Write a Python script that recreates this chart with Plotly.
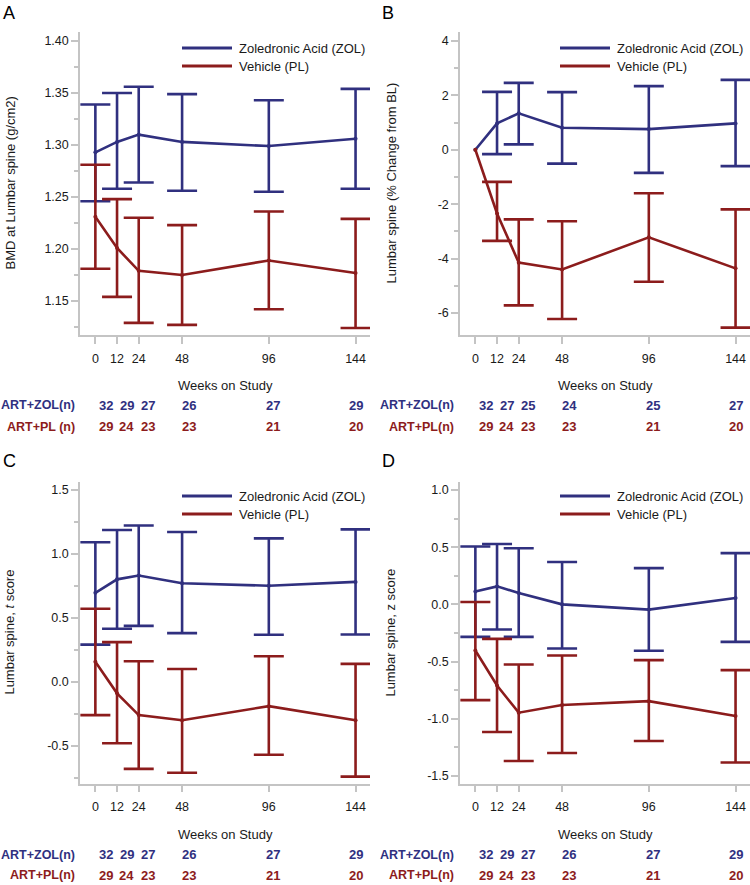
import plotly.graph_objects as go

W, H = 750, 885

weeks = [0, 12, 24, 48, 96, 144]
week_labels = ["0", "12", "24", "48", "96", "144"]

# Panel A: BMD at lumbar spine (g/cm2)
a_zol_mean = [1.293, 1.303, 1.310, 1.303, 1.299, 1.306]
a_zol_upper = [1.339, 1.350, 1.356, 1.349, 1.343, 1.354]
a_zol_lower = [1.246, 1.258, 1.264, 1.256, 1.255, 1.258]
a_pl_mean = [1.231, 1.201, 1.179, 1.175, 1.189, 1.177]
a_pl_upper = [1.281, 1.248, 1.230, 1.223, 1.236, 1.229]
a_pl_lower = [1.181, 1.154, 1.129, 1.127, 1.142, 1.124]

# Panel B: % change from baseline
b_zol_mean = [0.0, 0.97, 1.34, 0.81, 0.76, 0.97]
b_zol_upper = [None, 2.13, 2.46, 2.12, 2.34, 2.57]
b_zol_lower = [None, -0.16, 0.20, -0.51, -0.85, -0.60]
b_pl_mean = [0.0, -2.34, -4.15, -4.40, -3.22, -4.36]
b_pl_upper = [None, -1.18, -2.56, -2.63, -1.60, -2.19]
b_pl_lower = [None, -3.35, -5.72, -6.22, -4.85, -6.54]

# Panel C: t score
c_zol_mean = [0.695, 0.80, 0.83, 0.77, 0.75, 0.78]
c_zol_upper = [1.09, 1.185, 1.22, 1.17, 1.12, 1.19]
c_zol_lower = [0.29, 0.414, 0.437, 0.38, 0.367, 0.37]
c_pl_mean = [0.156, -0.09, -0.26, -0.30, -0.19, -0.30]
c_pl_upper = [0.57, 0.31, 0.16, 0.10, 0.20, 0.14]
c_pl_lower = [-0.26, -0.48, -0.68, -0.71, -0.57, -0.74]

# Panel D: z score
d_zol_mean = [0.113, 0.157, 0.10, 0.0, -0.046, 0.056]
d_zol_upper = [0.506, 0.527, 0.49, 0.37, 0.317, 0.448]
d_zol_lower = [-0.284, -0.22, -0.284, -0.386, -0.406, -0.328]
d_pl_mean = [-0.404, -0.709, -0.947, -0.88, -0.846, -0.976]
d_pl_upper = [0.02, -0.302, -0.526, -0.447, -0.488, -0.575]
d_pl_lower = [-0.837, -1.116, -1.369, -1.30, -1.194, -1.383]

# Numbers at risk
a_n_zol = [32, 29, 27, 26, 27, 29]
a_n_pl = [29, 24, 23, 23, 21, 20]
b_n_zol = [32, 27, 25, 24, 25, 27]
b_n_pl = [29, 24, 23, 23, 21, 20]
c_n_zol = [32, 29, 27, 26, 27, 29]
c_n_pl = [29, 24, 23, 23, 21, 20]
d_n_zol = [32, 29, 27, 26, 27, 29]
d_n_pl = [29, 24, 23, 23, 21, 20]

BLUE = "#30307f"
RED = "#8c1c1c"
AXC = "#c4c4c4"
TXT = "#1a1a1a"
FONT = "Liberation Sans, Arial, sans-serif"


def px_x(p):
    return p / W


def px_y(p):
    return 1 - p / H


panels = [
    dict(letter="A", xa="x", ya="y", xdom=(80, 370), ydom=(32, 335),
         yrange=(1.1173, 1.4087), ytv=[1.15, 1.20, 1.25, 1.30, 1.35, 1.40], yfmt="{:.2f}",
         ymdt=0.025, ytitle="BMD at Lumbar spine (g/cm2)",
         zol=(a_zol_mean, a_zol_upper, a_zol_lower), pl=(a_pl_mean, a_pl_upper, a_pl_lower),
         nz=a_n_zol, npl=a_n_pl, plname="ART+PL (n)", letter_xy=(1, 13.5), ytitle_x=10,
         wk_y=385, zrow=405, prow=426.7, lab_x=77, leg=(182, 232, 237, 48, 66)),
    dict(letter="B", xa="x2", ya="y2", xdom=(460, 750), ydom=(32, 335),
         yrange=(-6.81, 4.33), ytv=[-6, -4, -2, 0, 2, 4], yfmt="{:.0f}",
         ymdt=1, ytitle="Lumbar spine (% Change from BL)",
         zol=(b_zol_mean, b_zol_upper, b_zol_lower), pl=(b_pl_mean, b_pl_upper, b_pl_lower),
         nz=b_n_zol, npl=b_n_pl, plname="ART+PL(n)", letter_xy=(380, 13.5), ytitle_x=391,
         wk_y=385, zrow=405, prow=426.7, lab_x=456, leg=(560, 610, 615, 48, 66)),
    dict(letter="C", xa="x3", ya="y3", xdom=(80, 370), ydom=(481.7, 783.5),
         yrange=(-0.794, 1.5625), ytv=[-0.5, 0.0, 0.5, 1.0, 1.5], yfmt="{:.1f}",
         ymdt=0.25, ytitle="Lumbar spine, <i>t</i> score",
         zol=(c_zol_mean, c_zol_upper, c_zol_lower), pl=(c_pl_mean, c_pl_upper, c_pl_lower),
         nz=c_n_zol, npl=c_n_pl, plname="ART+PL(n)", letter_xy=(1, 461.5), ytitle_x=10,
         wk_y=834.3, zrow=854.7, prow=875.3, lab_x=77, leg=(182, 232, 237, 496, 514)),
    dict(letter="D", xa="x4", ya="y4", xdom=(460, 750), ydom=(481.7, 783.5),
         yrange=(-1.566, 1.072), ytv=[-1.5, -1.0, -0.5, 0.0, 0.5, 1.0], yfmt="{:.1f}",
         ymdt=0.25, ytitle="Lumbar spine, z score",
         zol=(d_zol_mean, d_zol_upper, d_zol_lower), pl=(d_pl_mean, d_pl_upper, d_pl_lower),
         nz=d_n_zol, npl=d_n_pl, plname="ART+PL(n)", letter_xy=(380, 461.5), ytitle_x=391,
         wk_y=834.3, zrow=854.7, prow=875.3, lab_x=456, leg=(560, 610, 615, 496, 514)),
]

fig = go.Figure()
annotations = []
shapes = []
layout = {}

for i, p in enumerate(panels):
    idx = i + 1
    sfx = "" if idx == 1 else str(idx)
    for (mean, up, lo), col in [(p["zol"], BLUE), (p["pl"], RED)]:
        fig.add_trace(go.Scatter(
            x=weeks, y=mean, mode="lines+markers", xaxis=p["xa"], yaxis=p["ya"],
            line=dict(color=col, width=2.6), marker=dict(color=col, size=4),
            showlegend=False, hoverinfo="skip"))
        ex = [w for w, u in zip(weeks, up) if u is not None]
        ey = [m for m, u in zip(mean, up) if u is not None]
        eu = [u - m for m, u in zip(mean, up) if u is not None]
        el = [m - l for m, l in zip(mean, lo) if l is not None]
        fig.add_trace(go.Scatter(
            x=ex, y=ey, mode="markers", xaxis=p["xa"], yaxis=p["ya"],
            marker=dict(color=col, size=1, opacity=0),
            error_y=dict(type="data", symmetric=False, array=eu, arrayminus=el,
                         color=col, thickness=2.6, width=15),
            showlegend=False, hoverinfo="skip"))

    xd = (px_x(p["xdom"][0]), px_x(p["xdom"][1]))
    yd = (px_y(p["ydom"][1]), px_y(p["ydom"][0]))
    layout["xaxis" + sfx] = dict(
        domain=list(xd), anchor=p["ya"], range=[-8.5, 152],
        tickmode="array", tickvals=weeks, ticktext=week_labels,
        showline=True, linecolor=AXC, linewidth=1.5, ticks="outside", ticklen=7,
        tickwidth=1.5, tickcolor=AXC, showgrid=False, zeroline=False,
        ticklabelstandoff=4,
        tickfont=dict(family=FONT, size=12.5, color=TXT), fixedrange=True)
    layout["yaxis" + sfx] = dict(
        domain=list(yd), anchor=p["xa"], range=list(p["yrange"]),
        tickmode="array", tickvals=p["ytv"], ticktext=[p["yfmt"].format(v) for v in p["ytv"]],
        minor=dict(ticks="outside", ticklen=4, tickwidth=1.5, tickcolor=AXC,
                   dtick=p["ymdt"], tick0=0, showgrid=False),
        showline=True, linecolor=AXC, linewidth=1.5, ticks="outside", ticklen=7,
        tickwidth=1.5, tickcolor=AXC, showgrid=False, zeroline=False,
        tickfont=dict(family=FONT, size=12.5, color=TXT), fixedrange=True)
    tx = "x" + str(idx + 4)
    layout["xaxis" + str(idx + 4)] = dict(
        domain=list(xd), range=[-15, 152.1], visible=False, overlaying=p["xa"],
        anchor=p["ya"], fixedrange=True)
    fig.add_trace(go.Scatter(x=[], y=[], xaxis=tx, yaxis=p["ya"], showlegend=False))

    annotations.append(dict(text=p["letter"], xref="paper", yref="paper",
                            x=px_x(p["letter_xy"][0]), y=px_y(p["letter_xy"][1]),
                            xanchor="left", yanchor="middle", showarrow=False,
                            font=dict(family=FONT, size=18, color="#000")))
    annotations.append(dict(text=p["ytitle"], xref="paper", yref="paper",
                            x=px_x(p["ytitle_x"]), y=px_y((p["ydom"][0] + p["ydom"][1]) / 2),
                            xanchor="center", yanchor="middle", textangle=-90, showarrow=False,
                            font=dict(family=FONT, size=13, color=TXT)))
    annotations.append(dict(text="Weeks on Study", xref="paper", yref="paper",
                            x=(xd[0] + xd[1]) / 2, y=px_y(p["wk_y"]),
                            xanchor="center", yanchor="middle", showarrow=False,
                            font=dict(family=FONT, size=13, color=TXT)))
    annotations.append(dict(text="<b>ART+ZOL(n)</b>", xref="paper", yref="paper",
                            x=px_x(p["lab_x"]), y=px_y(p["zrow"]), xanchor="right",
                            yanchor="middle", showarrow=False,
                            font=dict(family=FONT, size=12.5, color=BLUE)))
    annotations.append(dict(text="<b>" + p["plname"] + "</b>", xref="paper", yref="paper",
                            x=px_x(p["lab_x"]), y=px_y(p["prow"]), xanchor="right",
                            yanchor="middle", showarrow=False,
                            font=dict(family=FONT, size=12.5, color=RED)))
    for w, nz, npl in zip(weeks, p["nz"], p["npl"]):
        annotations.append(dict(text="<b>%d</b>" % nz, xref=tx, yref="paper",
                                x=w, y=px_y(p["zrow"]), xanchor="center", yanchor="middle",
                                showarrow=False, font=dict(family=FONT, size=13, color=BLUE)))
        annotations.append(dict(text="<b>%d</b>" % npl, xref=tx, yref="paper",
                                x=w, y=px_y(p["prow"]), xanchor="center", yanchor="middle",
                                showarrow=False, font=dict(family=FONT, size=13, color=RED)))
    lx0, lx1, tx0, r1, r2 = p["leg"]
    for ry, col, name in [(r1, BLUE, "Zoledronic Acid (ZOL)"), (r2, RED, "Vehicle (PL)")]:
        shapes.append(dict(type="line", xref="paper", yref="paper",
                           x0=px_x(lx0), x1=px_x(lx1), y0=px_y(ry), y1=px_y(ry),
                           line=dict(color=col, width=3)))
        annotations.append(dict(text=name, xref="paper", yref="paper",
                                x=px_x(tx0), y=px_y(ry), xanchor="left", yanchor="middle",
                                showarrow=False, font=dict(family=FONT, size=13, color=TXT)))

fig.update_layout(
    width=W, height=H, margin=dict(l=0, r=0, t=0, b=0),
    paper_bgcolor="white", plot_bgcolor="white",
    annotations=annotations, shapes=shapes, showlegend=False,
    **layout)

fig.write_html(
    "out.html",
    config={"displayModeBar": False},
    post_script="document.body.style.margin='0';document.body.style.overflow='hidden';")
